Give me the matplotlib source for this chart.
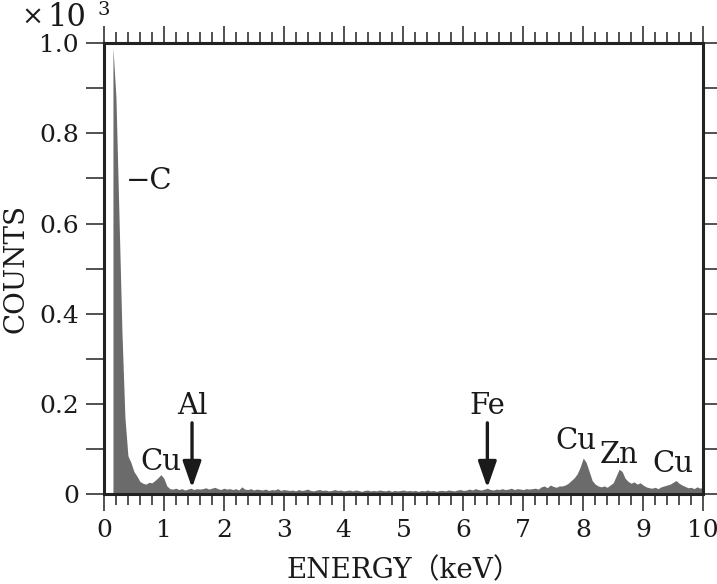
import numpy as np
import matplotlib
matplotlib.use("Agg")
import matplotlib.pyplot as plt

# ---- data (counts in units of 10^3), energy bins of 0.05 keV from 0.15 keV ----
e_start = 0.15
e_step = 0.05
counts = [
    0.99, 0.88, 0.62, 0.36, 0.17, 0.085, 0.07, 0.05, 0.04, 0.028,
    0.024, 0.022, 0.026, 0.025, 0.03, 0.036, 0.043, 0.035, 0.018, 0.012,
    0.011, 0.013, 0.010, 0.012, 0.009, 0.011, 0.013, 0.010, 0.012, 0.011,
    0.012, 0.014, 0.011, 0.013, 0.015, 0.012, 0.010, 0.013, 0.011, 0.012,
    0.010, 0.012, 0.009, 0.016, 0.011, 0.010, 0.012, 0.009, 0.011, 0.010,
    0.009, 0.011, 0.008, 0.010, 0.009, 0.012, 0.008, 0.010, 0.009, 0.008,
    0.009, 0.007, 0.010, 0.008, 0.009, 0.011, 0.008, 0.007, 0.009, 0.010,
    0.008, 0.009, 0.007, 0.008, 0.010, 0.008, 0.009, 0.007, 0.008, 0.009,
    0.007, 0.009, 0.008, 0.006, 0.008, 0.009, 0.007, 0.008, 0.007, 0.009,
    0.008, 0.007, 0.009, 0.006, 0.008, 0.007, 0.008, 0.009, 0.007, 0.008,
    0.007, 0.008, 0.006, 0.008, 0.007, 0.009, 0.007, 0.008, 0.006, 0.008,
    0.008, 0.007, 0.009, 0.008, 0.007, 0.009, 0.010, 0.008, 0.009, 0.011,
    0.009, 0.012, 0.010, 0.009, 0.011, 0.013, 0.010, 0.009, 0.011, 0.010,
    0.012, 0.010, 0.011, 0.013, 0.010, 0.012, 0.011, 0.010, 0.012, 0.011,
    0.012, 0.013, 0.011, 0.016, 0.018, 0.014, 0.020, 0.017, 0.015, 0.018,
    0.018, 0.020, 0.024, 0.030, 0.036, 0.045, 0.060, 0.080, 0.070, 0.050,
    0.030, 0.022, 0.018, 0.016, 0.018, 0.015, 0.020, 0.025, 0.040, 0.055,
    0.050, 0.035, 0.028, 0.024, 0.027, 0.022, 0.025, 0.020, 0.016, 0.014,
    0.013, 0.015, 0.012, 0.016, 0.018, 0.020, 0.022, 0.026, 0.030, 0.024,
    0.020, 0.017, 0.014, 0.015, 0.012, 0.016, 0.013, 0.015,
]

# peak labels: (text, x keV, y)
peak_labels = [
    ("Cu", 0.95, 0.071),
    ("Cu", 7.88, 0.118),
    ("Zn", 8.60, 0.087),
    ("Cu", 9.50, 0.067),
]
# arrow labels: (text, x keV)
arrow_labels = [
    ("Al", 1.47),
    ("Fe", 6.40),
]

x_ticks = list(range(0, 11))
y_ticks = [0, 0.2, 0.4, 0.6, 0.8, 1.0]
y_tick_labels = ["0", "0.2", "0.4", "0.6", "0.8", "1.0"]

# ---- plotting ----
serif = ["DejaVu Serif", "Noto Sans CJK JP"]
plt.rcParams["font.family"] = serif

fig = plt.figure(figsize=(7.17, 5.84), dpi=100)
ax = fig.add_axes([0.145, 0.154, 0.8355, 0.772])

counts_arr = np.array(counts)
energy = e_start + e_step * np.arange(len(counts_arr))
xs = np.concatenate([[energy[0]], energy])
ys = np.concatenate([[0.0], counts_arr])
ax.fill_between(xs, 0, ys, color="#6b6b6b", lw=0)

ax.set_xlim(0, 10)
ax.set_ylim(0, 1.0)

ax.set_xticks(x_ticks)
ax.set_xticks(np.arange(0, 10.01, 0.2), minor=True)
ax.set_yticks(y_ticks)
ax.set_yticklabels(y_tick_labels)
ax.set_yticks(np.arange(0, 1.01, 0.1), minor=True)

ax.tick_params(axis="both", which="both", direction="out", colors="#333333",
               labelcolor="#1a1a1a", labelsize=18, width=1.2)
ax.tick_params(axis="x", which="major", length=12, top=True, bottom=True, pad=6)
ax.tick_params(axis="x", which="minor", length=8, top=True, bottom=True)
ax.tick_params(axis="y", which="both", length=13, left=True, right=True, pad=5)

for s in ax.spines.values():
    s.set_linewidth(2.2)
    s.set_color("#222222")

ax.set_xlabel("ENERGY（keV）", fontsize=20, color="#1a1a1a", labelpad=11)
ax.set_ylabel("COUNTS", fontsize=20, color="#1a1a1a", labelpad=7)

# multiplier
fig.text(0.030, 0.972, "×", fontsize=19, color="#1a1a1a", va="center", ha="left")
fig.text(0.066, 0.970, "10", fontsize=22, color="#1a1a1a", va="center", ha="left")
fig.text(0.136, 0.983, "3", fontsize=14, color="#1a1a1a", va="center", ha="left")

# C label
ax.text(0.36, 0.695, "−C", fontsize=21, color="#1a1a1a", va="center", ha="left")

for txt, x, y in peak_labels:
    ax.text(x, y, txt, fontsize=21, color="#1a1a1a", ha="center", va="center")

for txt, x in arrow_labels:
    ax.text(x, 0.195, txt, fontsize=21, color="#1a1a1a", ha="center", va="center")
    ax.annotate("", xy=(x, 0.014), xytext=(x, 0.158),
                arrowprops=dict(arrowstyle="-|>,head_length=0.8,head_width=0.28",
                                lw=2.4, color="#1a1a1a", mutation_scale=20,
                                shrinkA=0, shrinkB=0))

fig.savefig("out.png", dpi=100)
